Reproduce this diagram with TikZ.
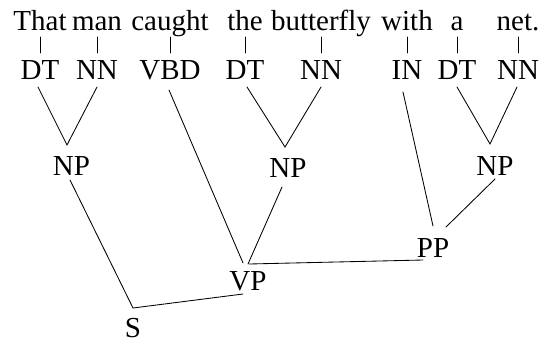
\documentclass[tikz,border=0pt]{standalone}
\usepackage{fontspec}
\setmainfont{Liberation Serif}
\newfontfamily\tnr{Liberation Serif}
\begin{document}
\begin{tikzpicture}[x=1pt,y=-1pt,
  lbl/.style={inner sep=0pt, anchor=base, font=\tnr\fontsize{29}{32}\selectfont},
  edge/.style={line width=0.85pt, line cap=round}]
\useasboundingbox (0,0) rectangle (540,343);
% words
\node[lbl] (w1) at (40,30) {That};
\node[lbl] (w2) at (97,30) {man};
\node[lbl] (w3) at (170,30) {caught};
\node[lbl] (w4) at (245,30) {the};
\node[lbl] (w5) at (321,30) {butterfly};
\node[lbl] (w6) at (407,30) {with};
\node[lbl] (w7) at (457,30) {a};
\node[lbl] (w8) at (518,30) {net.};
% tags
\node[lbl] (t1) at (40,79) {DT};
\node[lbl] (t2) at (97,79) {NN};
\node[lbl] (t3) at (170,79) {VBD};
\node[lbl] (t4) at (245,79) {DT};
\node[lbl] (t5) at (321,79) {NN};
\node[lbl] (t6) at (407,79) {IN};
\node[lbl] (t7) at (457,79) {DT};
\node[lbl] (t8) at (518,79) {NN};
% phrases
\node[lbl] (np1) at (71.5,175) {NP};
\node[lbl] (np2) at (288,177) {NP};
\node[lbl] (np3) at (495,175) {NP};
\node[lbl] (pp) at (433,257) {PP};
\node[lbl] (vp) at (248,290) {VP};
\node[lbl] (s) at (133,337) {S};
% ticks
\foreach \i in {1,...,8}
  \draw[edge] ([yshift=-7pt]w\i.base) -- ([yshift=26pt]t\i.base);
% tags to NPs
\draw[edge] ([xshift=-2pt,yshift=-8pt]t1.base) -- ([xshift=-4.5pt,yshift=30pt]np1.base)
            -- ([yshift=-8pt]t2.base);
\draw[edge] ([xshift=2pt,yshift=-8pt]t4.base) -- ([xshift=-3pt,yshift=30pt]np2.base)
            -- ([yshift=-8pt]t5.base);
\draw[edge] ([yshift=-8pt]t7.base) -- ([xshift=-5pt,yshift=31pt]np3.base)
            -- ([xshift=-1pt,yshift=-8pt]t8.base);
% VP children
\draw[edge] ([xshift=-1pt,yshift=-11pt]t3.base) -- ([xshift=-5pt,yshift=27pt]vp.base);
\draw[edge] ([xshift=-6pt,yshift=-10pt]np2.base) -- ([yshift=26pt]vp.base);
\draw[edge] ([xshift=-10pt,yshift=-3pt]pp.base) -- ([xshift=1pt,yshift=26pt]vp.base);
% PP children
\draw[edge] ([xshift=-4pt,yshift=-13pt]t6.base) -- ([yshift=31pt]pp.base);
\draw[edge] ([yshift=-4pt]np3.base) -- ([xshift=13pt,yshift=30pt]pp.base);
% S children
\draw[edge] ([xshift=-1.5pt,yshift=-5pt]np1.base) -- ([yshift=29pt]s.base);
\draw[edge] ([xshift=-5pt,yshift=-4pt]vp.base) -- ([yshift=29pt]s.base);
\end{tikzpicture}
\end{document}
